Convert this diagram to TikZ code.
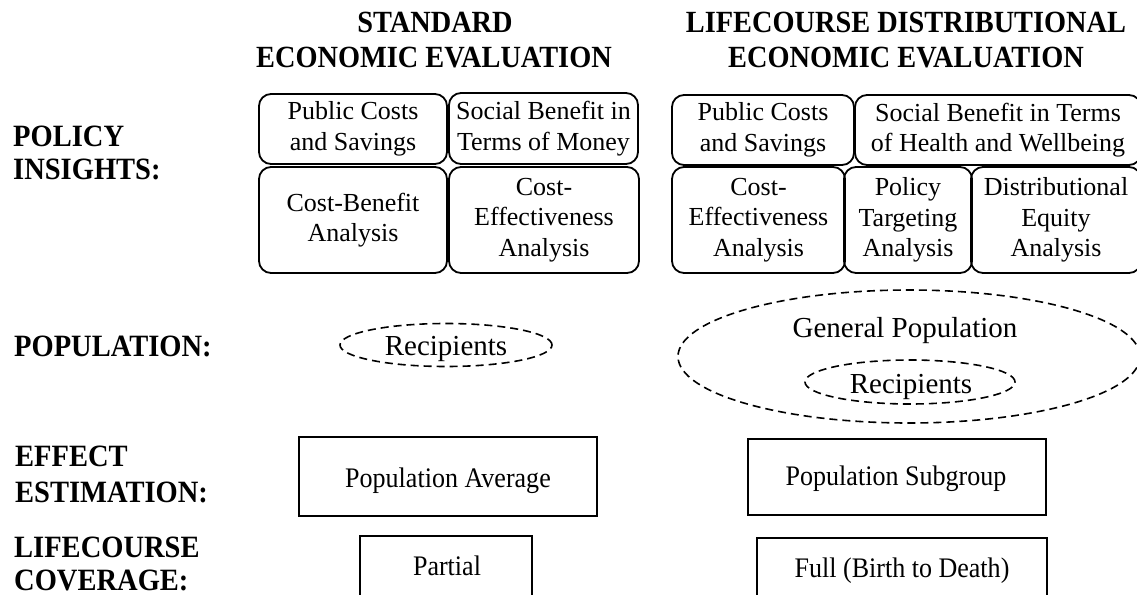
\documentclass[tikz,border=0pt]{standalone}
\usepackage{fontspec}
\setmainfont{Liberation Serif}
\newfontfamily\condfont[FakeStretch=0.92]{Liberation Serif}
\usetikzlibrary{shapes.geometric}
\tikzset{
  lab/.style={font=\condfont\bfseries\fontsize{31}{33}\selectfont, anchor=base west, inner sep=0pt},
  ttl/.style={font=\condfont\bfseries\fontsize{30.8}{33}\selectfont, anchor=base, inner sep=0pt},
  rbox/.style={draw, line width=1.8pt, rounded corners=12pt, align=center,
    font=\fontsize{26}{30.5}\selectfont, inner sep=0pt},
  pbox/.style={draw, line width=1.8pt, inner sep=0pt},
  ell/.style={draw, ellipse, dash pattern=on 8pt off 5pt, line width=1.6pt, inner sep=0pt},
  txt/.style={font=\condfont\fontsize{28.3}{30}\selectfont, anchor=base, inner sep=0pt},
  etxt/.style={font=\fontsize{29}{30}\selectfont, anchor=base, inner sep=0pt},
}
\begin{document}
\begin{tikzpicture}[x=1pt,y=-1pt]
\useasboundingbox (0,0) rectangle (1137,594);
\clip (0,0) rectangle (1137,594);
% titles
\node[ttl] (t1a) at (435,33) {STANDARD};
\node[ttl] (t1b) at (434,67) {ECONOMIC EVALUATION};
\node[ttl] (t2a) at (906,33) {LIFECOURSE DISTRIBUTIONAL};
\node[ttl] (t2b) at (906,67) {ECONOMIC EVALUATION};
% row labels
\node[lab] (l1a) at (13,146) {POLICY};
\node[lab] (l1b) at (13,179) {INSIGHTS:};
\node[lab] (l2) at (14,356) {POPULATION:};
\node[lab] (l3a) at (15,466) {EFFECT};
\node[lab] (l3b) at (15,502) {ESTIMATION:};
\node[lab] (l4a) at (14,557) {LIFECOURSE};
\node[lab] (l4b) at (14,590) {COVERAGE:};
% policy insight boxes, standard
\node[rbox, minimum width=188pt, minimum height=70pt] (pc1) at (353,129) {Public Costs\\and Savings};
\node[rbox, minimum width=189pt, minimum height=71pt] (sb1) at (543.5,128.5) {Social Benefit in\\Terms of Money};
\node[rbox, minimum width=188pt, minimum height=106pt] (cb1) at (353,220) {Cost-Benefit\\Analysis};
\node[rbox, minimum width=190pt, minimum height=106pt] (ce1) at (544,220) {Cost-\\Effectiveness\\Analysis};
% policy insight boxes, lifecourse
\node[rbox, minimum width=182pt, minimum height=70pt] (pc2) at (763,130) {Public Costs\\and Savings};
\node[rbox, minimum width=286pt, minimum height=70pt] (sb2) at (998,130) {Social Benefit in Terms\\of Health and Wellbeing};
\node[rbox, minimum width=173pt, minimum height=106pt] (ce2) at (758.5,220) {Cost-\\Effectiveness\\Analysis};
\node[rbox, minimum width=128pt, minimum height=106pt] (pt2) at (908,220) {Policy\\Targeting\\Analysis};
\node[rbox, minimum width=170pt, minimum height=106pt] (de2) at (1056,220) {Distributional\\Equity\\Analysis};
% population
\node[ell, minimum width=212pt, minimum height=43pt] (r1) at (446,345) {};
\node[etxt] (r1t) at (446,355) {Recipients};
\node[ell, minimum width=462pt, minimum height=133pt] (gp) at (909,356.5) {};
\node[etxt] (gpt) at (905,337) {General Population};
\node[ell, minimum width=210pt, minimum height=44pt] (r2) at (910,382) {};
\node[etxt] (r2t) at (911,393) {Recipients};
% effect estimation
\node[pbox, minimum width=298pt, minimum height=79pt] (pa) at (448,476.5) {};
\node[txt] (pat) at (448,487) {Population Average};
\node[pbox, minimum width=298pt, minimum height=76pt] (ps) at (897,477) {};
\node[txt] (pst) at (896,485) {Population Subgroup};
% lifecourse coverage
\node[pbox, minimum width=172pt, minimum height=62pt] (pr) at (446,567) {};
\node[txt] (prt) at (447,575) {Partial};
\node[pbox, minimum width=290pt, minimum height=60pt] (fu) at (902,568) {};
\node[txt] (fut) at (902,577) {Full (Birth to Death)};
\end{tikzpicture}
\end{document}
